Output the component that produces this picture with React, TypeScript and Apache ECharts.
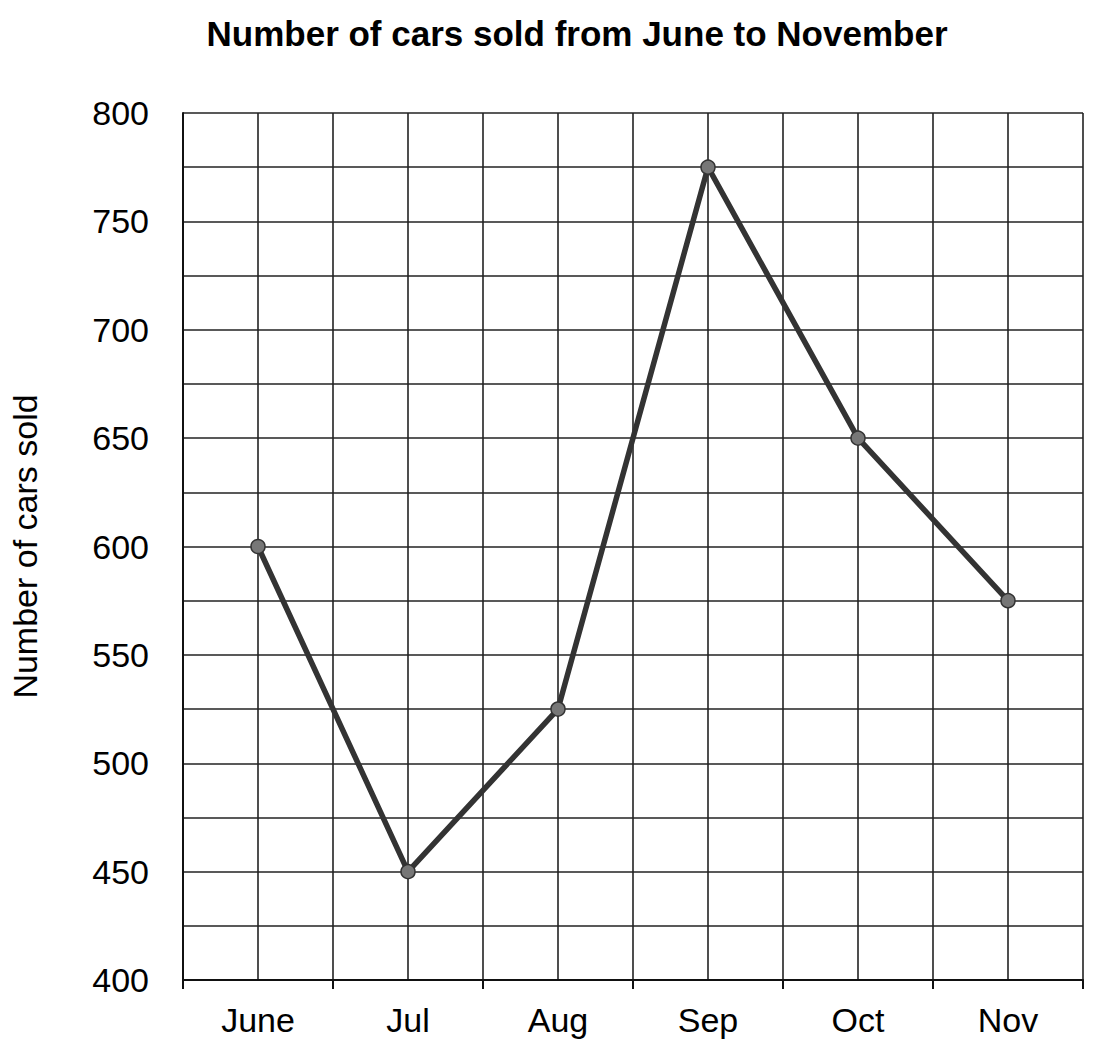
import React, { useEffect, useRef } from "react";
import * as echarts from "echarts";

const categories = ["June", "Jul", "Aug", "Sep", "Oct", "Nov"];
const carsSold = [600, 450, 525, 775, 650, 575];
const yTickLabels = [400, 450, 500, 550, 600, 650, 700, 750, 800];

export default function App() {
  const ref = useRef<HTMLDivElement>(null);
  useEffect(() => {
    if (!ref.current) return;
    const chart = echarts.init(ref.current, null, { renderer: "svg" });
    const font = "'Liberation Sans', Arial, sans-serif";
    chart.setOption({
      animation: false,
      backgroundColor: "#fff",
      textStyle: { fontFamily: font },
      title: {
        text: "Number of cars sold from June to November",
        left: 572,
        textAlign: "center",
        top: 11,
        textStyle: { fontSize: 35, fontWeight: "bold", color: "#000", fontFamily: font },
      },
      grid: {
        left: 183,
        right: 18,
        top: 113,
        bottom: 68,
        containLabel: false,
        outerBoundsMode: "none",
      },
      xAxis: [
        {
          type: "category",
          data: categories,
          boundaryGap: true,
          axisLine: { show: true, lineStyle: { color: "#111", width: 2 } },
          axisTick: { show: true, alignWithLabel: false, length: 9, lineStyle: { color: "#111", width: 2 } },
          axisLabel: { fontSize: 34, color: "#000", margin: 23, fontFamily: font },
          splitLine: { show: false },
        },
        {
          type: "value",
          min: 0,
          max: 12,
          interval: 1,
          position: "bottom",
          axisLine: { show: false },
          axisTick: { show: false },
          axisLabel: { show: false },
          splitLine: { show: true, lineStyle: { color: "#222", width: 1.6 } },
        },
      ],
      yAxis: {
        type: "value",
        min: 400,
        max: 800,
        interval: 25,
        name: "Number of cars sold",
        nameLocation: "middle",
        nameRotate: 90,
        nameGap: 141,
        nameTextStyle: { fontSize: 34, color: "#000", fontFamily: font },
        axisLine: { show: true, lineStyle: { color: "#111", width: 2 } },
        axisTick: { show: false },
        axisLabel: {
          fontSize: 34,
          color: "#000",
          margin: 34,
          fontFamily: font,
          formatter: (v: number) => (yTickLabels.includes(v) ? String(v) : ""),
        },
        splitLine: { show: true, lineStyle: { color: "#222", width: 1.6 } },
      },
      series: [
        {
          type: "line",
          data: carsSold,
          xAxisIndex: 0,
          symbol: "circle",
          symbolSize: 14,
          lineStyle: { color: "#333", width: 5.5 },
          itemStyle: { color: "#777", borderColor: "#333", borderWidth: 1.5 },
          z: 5,
        },
      ],
    });
    return () => chart.dispose();
  }, []);
  return (
    <div
      ref={ref}
      style={{ position: "absolute", left: 0, top: 0, width: 1101, height: 1048 }}
    />
  );
}
